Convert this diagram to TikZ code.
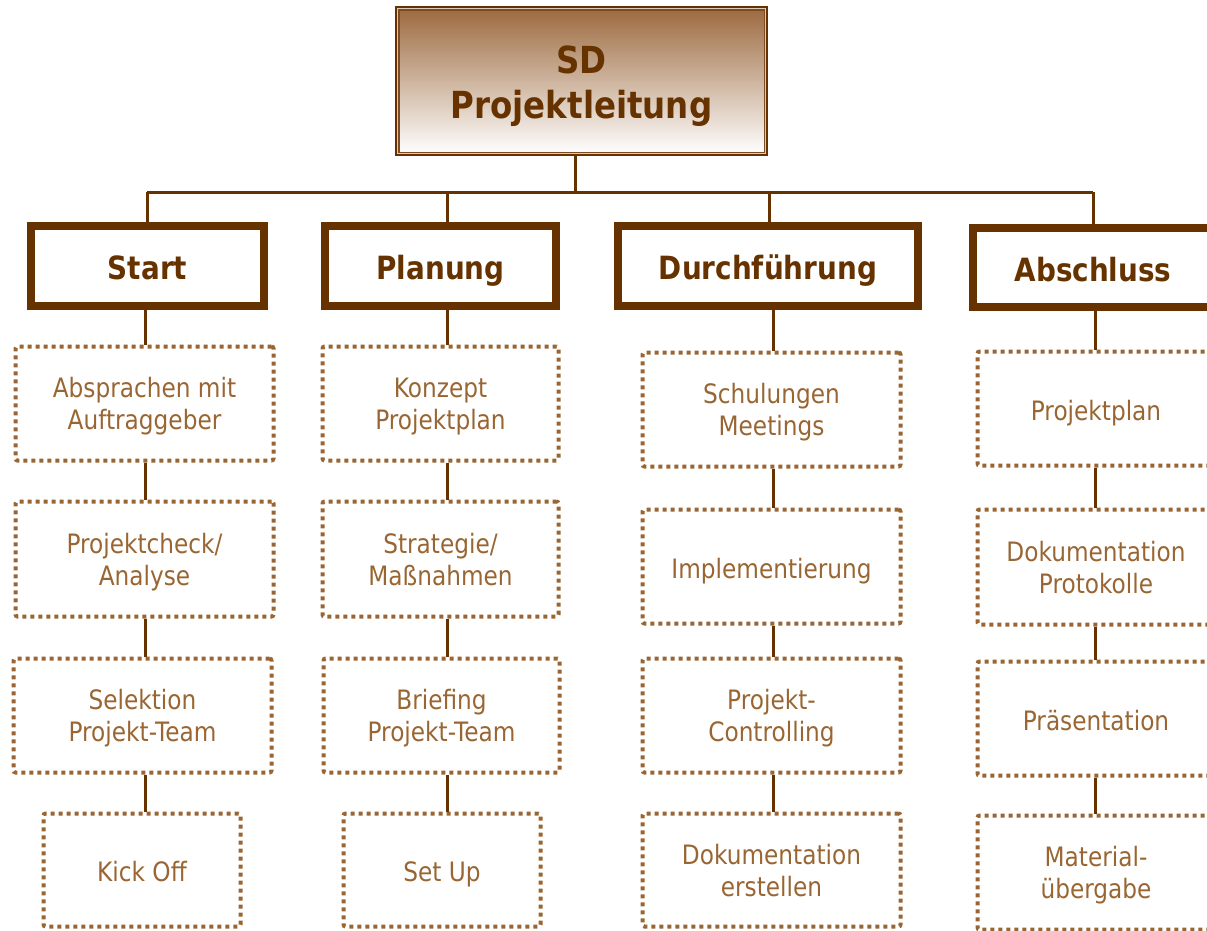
\documentclass[tikz,border=0pt]{standalone}
\usepackage{fontspec}
\setmainfont{DejaVu Sans}[FakeStretch=0.87]
\definecolor{dk}{RGB}{102,51,0}
\definecolor{lt}{RGB}{153,102,51}
\definecolor{gr}{RGB}{156,106,62}
\definecolor{inl}{RGB}{125,75,35}
\begin{document}
\begin{tikzpicture}[x=1pt,y=-1pt,
  topbox/.style={draw=dk, line width=4pt, top color=gr, bottom color=white, text=dk,
    font=\fontsize{37.3}{45}\selectfont\bfseries, align=center, inner sep=0pt,
    text height=74pt, text depth=0pt},
  phase/.style={draw=dk, line width=8pt, text=dk, fill=white,
    font=\fontsize{32}{38}\selectfont\bfseries, inner sep=0pt, minimum height=80pt,
    text height=27.4pt, text depth=0pt},
  subbox/.style={draw=lt, line width=4pt, dash pattern=on 4pt off 4pt, rounded corners=2pt,
    text=lt, font=\fontsize{26.7}{32}\selectfont, align=center, inner sep=0pt,
    text height=52pt, text depth=0pt},
  subone/.style={subbox, text height=23pt},
  conn/.style={draw=dk, line width=3pt}]
\useasboundingbox (0,0) rectangle (1207,930);
\clip (0,0) rectangle (1207,930);

% top box
\node[topbox, minimum width=369pt, minimum height=146pt] (top) at (581.5,81) {SD\\Projektleitung};
\draw[white!65!gr, line width=1.2pt] ([xshift=2.6pt,yshift=-2.6pt]top.north west) rectangle ([xshift=-2.6pt,yshift=2.6pt]top.south east);
\draw[inl, line width=1.2pt] ([xshift=3.9pt,yshift=-3.9pt]top.north west) rectangle ([xshift=-3.9pt,yshift=3.9pt]top.south east);

% bus
\coordinate (bus) at (575,192);
\coordinate (bs) at (147,192);
\coordinate (bp) at (447.5,192);
\coordinate (bd) at (769,192);
\coordinate (ba) at (1093,192);
\draw[conn] (top.south -| bus) -- (bus);
\draw[conn] (bs) -- (ba);

% phases
\node[phase, minimum width=233pt] (start) at (147.5,266) {Start};
\node[phase, minimum width=231pt] (plan) at (440.5,266) {Planung};
\node[phase, minimum width=300pt] (durch) at (768,266) {Durchführung};
\node[phase, minimum width=240pt, minimum height=79pt] (absch) at (1093,267.5) {Abschluss};

\draw[conn] (bs) -- (bs |- start.north);
\draw[conn] (bp) -- (bp |- plan.north);
\draw[conn] (bd) -- (bd |- durch.north);
\draw[conn] (ba) -- (ba |- absch.north);

% Start column
\coordinate (sc) at (145,0);
\node[subbox, minimum width=258pt, minimum height=114pt] (s1) at (144.5,403.5) {Absprachen mit\\Auftraggeber};
\node[subbox, minimum width=258pt, minimum height=115pt] (s2) at (144.5,559) {Projektcheck/\\Analyse};
\node[subbox, minimum width=258pt, minimum height=114pt] (s3) at (142.5,715.5) {Selektion\\Projekt-Team};
\node[subone, minimum width=197pt, minimum height=113pt] (s4) at (142,870) {Kick Off};
\draw[conn] (start.south -| sc) -- (s1.north -| sc);
\draw[conn] (s1.south -| sc) -- (s2.north -| sc);
\draw[conn] (s2.south -| sc) -- (s3.north -| sc);
\draw[conn] (s3.south -| sc) -- (s4.north -| sc);

% Planung column
\coordinate (pc) at (447,0);
\node[subbox, minimum width=236pt, minimum height=114pt] (p1) at (440.5,403.5) {Konzept\\Projektplan};
\node[subbox, minimum width=236pt, minimum height=115pt] (p2) at (440.5,559) {Strategie/\\Maßnahmen};
\node[subbox, minimum width=236pt, minimum height=114pt] (p3) at (441.5,715.5) {Briefing\\Projekt-Team};
\node[subone, minimum width=197pt, minimum height=113pt] (p4) at (442,870) {Set Up};
\draw[conn] (plan.south -| pc) -- (p1.north -| pc);
\draw[conn] (p1.south -| pc) -- (p2.north -| pc);
\draw[conn] (p2.south -| pc) -- (p3.north -| pc);
\draw[conn] (p3.south -| pc) -- (p4.north -| pc);

% Durchfuehrung column
\coordinate (dc) at (773,0);
\node[subbox, minimum width=258pt, minimum height=114pt] (d1) at (771.5,409.5) {Schulungen\\Meetings};
\node[subone, minimum width=258pt, minimum height=114pt] (d2) at (771.5,566.5) {Implementierung};
\node[subbox, minimum width=258pt, minimum height=114pt] (d3) at (771.5,715.5) {Projekt-\\Controlling};
\node[subbox, minimum width=258pt, minimum height=113pt] (d4) at (771.5,870) {Dokumentation\\erstellen};
\draw[conn] (durch.south -| dc) -- (d1.north -| dc);
\draw[conn] (d1.south -| dc) -- (d2.north -| dc);
\draw[conn] (d2.south -| dc) -- (d3.north -| dc);
\draw[conn] (d3.south -| dc) -- (d4.north -| dc);

% Abschluss column
\coordinate (ac) at (1095,0);
\node[subone, minimum width=237pt, minimum height=114pt] (a1) at (1096,408.5) {Projektplan};
\node[subbox, minimum width=237pt, minimum height=115pt] (a2) at (1096,567) {Dokumentation\\Protokolle};
\node[subone, minimum width=237pt, minimum height=114pt] (a3) at (1096,718.5) {Präsentation};
\node[subbox, minimum width=237pt, minimum height=114pt] (a4) at (1096,872.5) {Material-\\übergabe};
\draw[conn] (absch.south -| ac) -- (a1.north -| ac);
\draw[conn] (a1.south -| ac) -- (a2.north -| ac);
\draw[conn] (a2.south -| ac) -- (a3.north -| ac);
\draw[conn] (a3.south -| ac) -- (a4.north -| ac);
\end{tikzpicture}
\end{document}
